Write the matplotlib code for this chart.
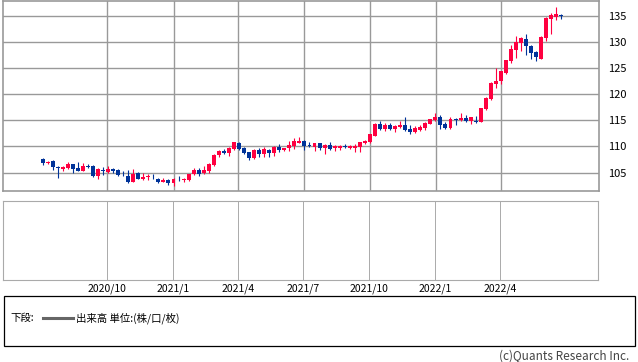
import numpy as np
import pandas as pd
import matplotlib
matplotlib.use('Agg')
import matplotlib.pyplot as plt
import matplotlib.dates as mdates
from matplotlib.patches import Rectangle
from matplotlib.lines import Line2D

plt.rcParams['font.family'] = ['Noto Sans CJK JP', 'DejaVu Sans']

# weekly candles, one per Friday
weeks = pd.date_range('2020-07-03', periods=104, freq='W-FRI')

opens = [
    107.5, 106.85, 107.2, 106.1, 105.6, 105.9, 106.65, 105.9, 105.3, 106.2,
    106.3, 104.35, 105.4, 105.1, 105.6, 105.4, 104.8, 104.4, 103.2, 104.9,
    103.7, 104.1, 104.15, 103.85, 103.2, 103.5, 102.95, 103.85, 103.6, 103.6,
    104.7, 105.5, 104.9, 105.3, 106.5, 108.3, 109.1, 108.75, 109.5, 110.7,
    109.65, 108.9, 107.8, 109.25, 108.5, 109.3, 108.75, 109.9, 109.3, 109.6,
    110.1, 110.65, 111.1, 110.15, 109.9, 110.6, 109.6, 110.2, 109.6, 109.7,
    109.95, 109.7, 109.7, 109.85, 110.6, 110.75, 112.0, 114.2, 113.3, 114.1,
    113.4, 113.7, 114.0, 113.4, 112.7, 113.05, 113.45, 114.3, 115.0, 115.6,
    114.2, 113.5, 115.2, 115.0, 115.35, 114.85, 114.85, 114.7, 117.15, 119.0,
    121.9, 122.45, 124.0, 126.25, 128.45, 129.8, 130.5, 129.25, 128.05, 126.8,
    130.7, 134.3, 134.75, 135.2,
]
highs = [
    107.8, 107.2, 107.4, 106.2, 106.2, 107.0, 106.7, 107.0, 106.8, 106.6,
    106.4, 105.9, 106.0, 106.2, 105.9, 105.6, 105.3, 105.4, 105.6, 105.1,
    104.9, 104.8, 104.8, 104.0, 104.0, 103.7, 103.9, 104.4, 104.0, 104.8,
    105.8, 105.9, 106.3, 106.9, 108.6, 109.3, 109.5, 109.8, 110.9, 110.9,
    109.9, 109.0, 109.5, 109.7, 109.9, 109.5, 110.1, 110.4, 109.7, 111.0,
    111.6, 111.75, 111.3, 110.9, 110.6, 110.7, 110.4, 110.8, 110.2, 110.3,
    110.4, 110.3, 110.4, 110.9, 111.2, 112.4, 114.4, 114.8, 114.4, 114.5,
    114.0, 114.9, 115.6, 114.1, 113.8, 114.1, 114.6, 115.2, 116.4, 116.0,
    114.6, 115.7, 115.4, 116.4, 116.0, 115.7, 115.8, 117.4, 119.4, 122.4,
    125.0, 124.4, 126.6, 129.4, 131.2, 131.0, 131.4, 129.4, 128.3, 131.1,
    134.7, 135.6, 136.7, 135.3,
]
lows = [
    106.4, 106.6, 105.4, 104.0, 105.2, 105.6, 105.0, 105.2, 105.2, 105.8,
    104.2, 103.8, 104.6, 105.0, 105.0, 104.3, 104.3, 103.0, 103.1, 103.7,
    103.6, 103.6, 103.7, 102.9, 103.1, 102.7, 102.5, 103.4, 103.2, 103.4,
    104.6, 104.4, 104.7, 104.9, 106.3, 108.0, 108.5, 108.2, 109.3, 109.3,
    108.6, 107.3, 107.6, 107.9, 108.0, 108.0, 108.2, 109.0, 109.1, 109.2,
    109.5, 110.6, 109.3, 109.8, 109.1, 109.3, 108.6, 109.4, 109.1, 109.4,
    109.6, 109.5, 108.9, 108.9, 110.5, 110.7, 111.9, 113.2, 113.0, 113.1,
    112.7, 113.6, 112.9, 112.4, 112.5, 113.0, 113.2, 114.2, 114.9, 113.4,
    113.4, 113.4, 114.0, 114.9, 114.7, 114.3, 114.5, 114.6, 117.0, 118.8,
    121.2, 121.9, 123.9, 126.0, 126.9, 128.3, 127.5, 126.8, 126.4, 126.7,
    130.2, 131.4, 134.2, 134.4,
]
closes = [
    106.8, 106.95, 106.1, 105.8, 106.1, 106.65, 105.7, 105.3, 106.3, 106.1,
    104.35, 105.6, 105.3, 105.6, 105.2, 104.6, 104.65, 103.2, 104.7, 103.8,
    104.2, 104.15, 104.05, 103.2, 103.5, 102.95, 103.8, 103.7, 103.7, 104.7,
    105.55, 104.75, 105.45, 106.7, 108.3, 109.1, 108.75, 109.65, 110.8, 109.5,
    108.75, 107.8, 109.3, 108.5, 109.5, 108.75, 109.8, 109.3, 109.65, 110.2,
    110.95, 111.1, 110.1, 110.05, 110.6, 109.6, 110.3, 109.5, 110.05, 110.05,
    109.85, 110.1, 110.1, 110.75, 111.0, 112.3, 114.2, 113.3, 114.0, 113.3,
    113.95, 114.0, 113.05, 112.7, 113.45, 113.7, 114.45, 115.15, 115.6, 114.1,
    113.5, 115.15, 115.05, 115.5, 114.85, 115.55, 114.6, 117.3, 119.2, 122.05,
    122.5, 124.35, 126.45, 128.55, 129.95, 130.65, 129.2, 127.85, 127.1, 130.9,
    134.55, 135.05, 135.25, 134.85,
]

quarter_ticks = pd.to_datetime(['2020-10-01', '2021-01-01', '2021-04-01', '2021-07-01',
                                '2021-10-01', '2022-01-01', '2022-04-01'])
quarter_labels = ['2020/10', '2021/1', '2021/4', '2021/7', '2021/10', '2022/1', '2022/4']
price_ticks = [105, 110, 115, 120, 125, 130, 135]

RED = '#ff0040'
BLUE = '#003399'
GRID = '#999999'

W, H = 638, 362


def fx(px):
    return px / W


def fy(py):
    return 1 - py / H


fig = plt.figure(figsize=(W / 100, H / 100), dpi=100)
ax = fig.add_axes([fx(3), fy(190.5), fx(595.7), 189.5 / H])
vol = fig.add_axes([fx(3), fy(279.5), fx(594.5), 78.5 / H])

x = mdates.date2num(weeks)
o, h, l, c = (np.array(v) for v in (opens, highs, lows, closes))
colors = np.where(c >= o, RED, BLUE)

ax.vlines(x, l, h, colors=colors, linewidth=0.8, zorder=3)
ax.bar(x, np.maximum(np.abs(c - o), 0.15), bottom=np.minimum(o, c),
       width=5.5, color=colors, linewidth=0, zorder=4)

xlim = mdates.date2num(pd.to_datetime(['2020-05-09', '2022-08-15']))
ax.set_xlim(*xlim)
ax.set_ylim(101.56, 137.8)
ax.set_xticks(mdates.date2num(quarter_ticks))
ax.set_xticklabels([])
ax.set_yticks(price_ticks)
ax.yaxis.tick_right()
ax.tick_params(axis='both', length=0)
ax.tick_params(axis='y', pad=7, labelsize=8)
ax.grid(True, color=GRID, linewidth=1.0)
ax.set_axisbelow(True)
for s in ax.spines.values():
    s.set_edgecolor(GRID)
    s.set_linewidth(1.2)

vol.set_xlim(*xlim)
vol.set_ylim(0, 1)
vol.set_yticks([])
vol.set_xticks(mdates.date2num(quarter_ticks))
vol.set_xticklabels(quarter_labels)
vol.tick_params(axis='x', length=0, pad=3, labelsize=7.5)
vol.grid(True, axis='x', color='#aaaaaa', linewidth=0.7)
for s in vol.spines.values():
    s.set_edgecolor('#aaaaaa')
    s.set_linewidth(0.8)

# legend box
fig.add_artist(Rectangle((fx(3.5), fy(346)), fx(631), 50.5 / H, transform=fig.transFigure,
                         fill=False, edgecolor='black', linewidth=0.9))
fig.text(fx(10), fy(318), '下段:', fontsize=7.5, va='center', ha='left')
fig.add_artist(Line2D([fx(43), fx(72.5)], [fy(318), fy(318)], transform=fig.transFigure,
                      color='#666666', linewidth=2.2))
fig.text(fx(75.5), fy(318), '出来高 単位:(株/口/枚)', fontsize=7.5, va='center', ha='left')

fig.text(fx(629), fy(356.5), '(c)Quants Research Inc.', fontsize=8.5, va='center',
         ha='right', color='#444444')

fig.savefig('out.png', dpi=100)
